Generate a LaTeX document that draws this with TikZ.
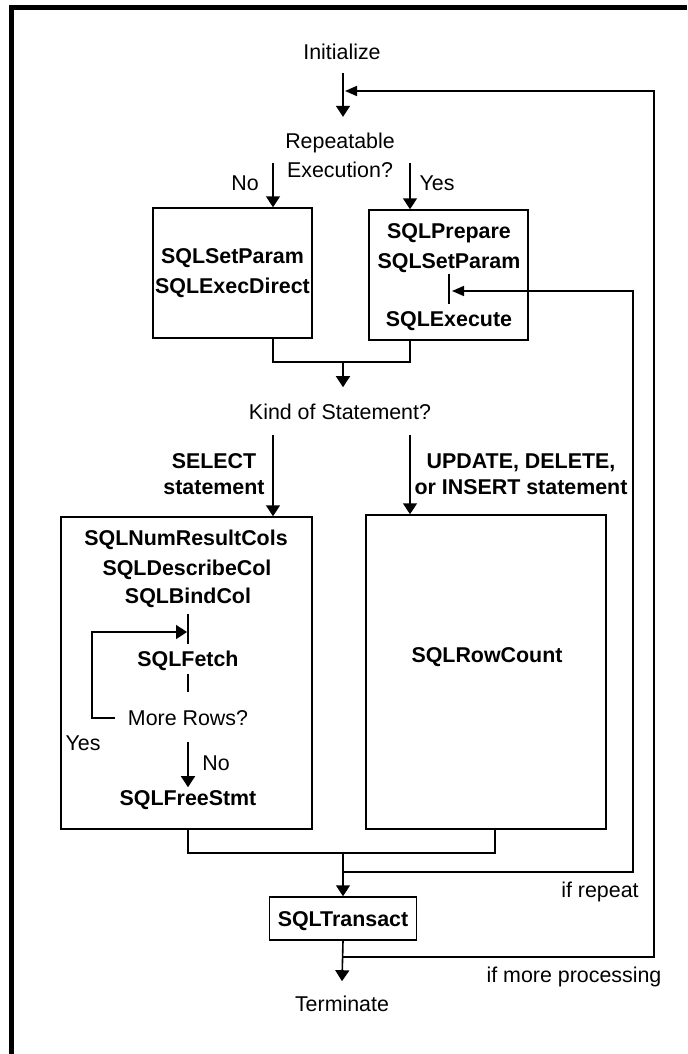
\documentclass[tikz,border=0pt]{standalone}
\usepackage{fontspec}
\setmainfont{Liberation Sans}
\usetikzlibrary{positioning,arrows.meta,calc}

\begin{document}
\begin{tikzpicture}[x=0.5pt,y=-0.5pt,line width=0.8pt,font=\fontsize{10.7}{14.5}\selectfont]
  \tikzstyle{txt}=[inner sep=0pt,text height=8.8pt,text depth=1.2pt]
  \tikzstyle{sql}=[txt,font=\fontsize{10.7}{15}\selectfont\bfseries]
  \tikzstyle{frame}=[draw,line width=0.75pt,inner sep=0pt]
  \tikzstyle{arr}=[-{Triangle[width=7pt,length=5.5pt]}]
  \tikzstyle{ret}=[-{Triangle[width=5pt,length=6pt]}]
  \useasboundingbox (0,0) rectangle (687,1054);
  \draw[line width=2.5pt] (687,7.5) -- (11.5,7.5) -- (11.5,1054);
  % columns used by the connectors
  \coordinate (cL) at (273,0);
  \coordinate (cR) at (410,0);
  \coordinate (cF) at (188,0);
  \coordinate (cC) at (495,0);
  \coordinate (cY) at (92,0);
  \coordinate (cA) at (633,0);
  \coordinate (cB) at (654,0);
  % nodes
  \node[txt] (init) at (342,52) {Initialize};
  \node[align=center,inner sep=0pt] (rep) at (340,155) {Repeatable\\Execution?};
  \node[txt] (nolbl) at (245,183) {No};
  \node[txt] (yeslbl) at (437,183) {Yes};
  \node[frame,align=center,minimum width=79.5pt,minimum height=65pt,
        font=\fontsize{10.7}{15}\selectfont\bfseries] (direct) at (232.5,273) {SQLSetParam\\SQLExecDirect};
  \node[frame,minimum width=79.5pt,minimum height=65pt] (prepbox) at (448.5,275) {};
  \node[sql] (prep) at (449,231) {SQLPrepare};
  \node[sql] (param) at (449,261) {SQLSetParam};
  \node[sql] (exec) at (449,319) {SQLExecute};
  \node[txt] (kind) at (340,412) {Kind of Statement?};
  \node[align=center,inner sep=0pt,font=\fontsize{10.7}{13}\selectfont\bfseries] (sel) at (214,474) {SELECT\\statement};
  \node[align=center,inner sep=0pt,font=\fontsize{10.7}{13}\selectfont\bfseries] (upd) at (521,474) {UPDATE, DELETE,\\or INSERT statement};
  \node[frame,minimum width=125.5pt,minimum height=156pt] (fetchbox) at (186.5,673) {};
  \node[sql] (numres) at (186,538) {SQLNumResultCols};
  \node[sql] (desc) at (187,568) {SQLDescribeCol};
  \node[sql] (bind) at (188,596) {SQLBindCol};
  \node[sql] (fetch) at (188,659) {SQLFetch};
  \node[txt] (more) at (188,718) {More Rows?};
  \node[txt] (yes2) at (83,743) {Yes};
  \node[txt] (no2) at (216,763) {No};
  \node[sql] (free) at (188,798) {SQLFreeStmt};
  \node[frame,minimum width=120pt,minimum height=157pt] (rowbox) at (486,672) {};
  \node[sql] (rowc) at (487,655) {SQLRowCount};
  \node[frame,sql,minimum width=73.5pt,minimum height=21.5pt] (trans) at (343,918.5) {SQLTransact};
  \node[txt] (ifrep) at (600,890) {if repeat};
  \node[txt] (ifmore) at (574,975) {if more processing};
  \node[txt] (term) at (342,1004) {Terminate};
  % junctions
  \coordinate (m1) at (343,362);
  \coordinate (m2) at (343,853);
  \coordinate (r1) at (343,872);
  \coordinate (r3) at (343,957);
  \coordinate (pin1) at (345,91);
  \coordinate (pin2) at (452,291);
  \coordinate (fin) at (187,632);
  % connectors
  \draw[arr] ($(init.south)+(1,10)$) -- ($(rep.north -| m1)+(0,-15)$);
  \draw[arr] (cL |- nolbl) ++(0,-20) -- (cL |- direct.north);
  \draw[arr] (cR |- yeslbl) ++(0,-20) -- (cR |- prepbox.north);
  \draw ($(param.south)+(0,2)$) -- ($(exec.north)+(0,-4)$);
  \draw (cL |- direct.south) |- (m1) -| (cR |- prepbox.south);
  \draw[arr] (m1) -- ($(kind.north -| m1)+(0,-14)$);
  \draw[arr] ($(cL |- kind.south)+(0,12)$) -- (cL |- fetchbox.north);
  \draw[arr] ($(cR |- kind.south)+(0,12)$) -- (cR |- rowbox.north);
  \draw ($(bind.south)+(0,7)$) -- ($(fetch.north)+(0,-4)$);
  \draw[arr] ($(more.west)+(-12,0)$) -- (cY |- more) |- (fin);
  \draw ($(fetch.south)+(0,4)$) -- ($(more.north)+(0,-15)$);
  \draw[arr] ($(more.south)+(0,13)$) -- (free.north);
  \draw (cF |- fetchbox.south) |- (m2) -| (cC |- rowbox.south);
  \draw[arr] (m2) -- (trans.north);
  \draw[ret] (r1) -| (cA |- pin2) -- (pin2);
  \draw[arr] (trans.south) -- ($(term.north)+(0,-12)$);
  \draw[ret] (r3) -| (cB |- pin1) -- (pin1);
\end{tikzpicture}
\end{document}
